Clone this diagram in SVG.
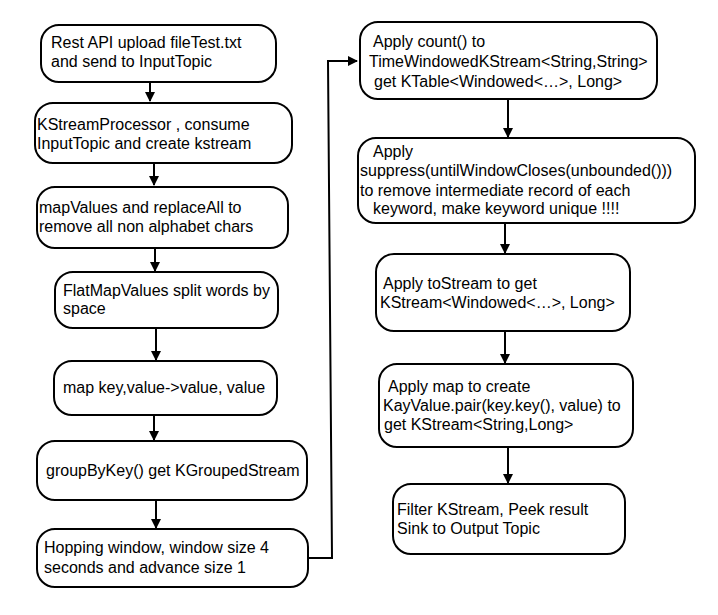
<svg xmlns="http://www.w3.org/2000/svg" width="718" height="615" viewBox="0 0 718 615">
<style>
.box{fill:#fff;stroke:#000;stroke-width:2}
.t{font-family:"Liberation Sans",Arial,sans-serif;font-size:16px;fill:#000}
.c{fill:none;stroke:#000;stroke-width:2}
</style>
<defs>
<marker id="ah" markerWidth="5" markerHeight="5" refX="4.5" refY="2.5" orient="auto" markerUnits="strokeWidth">
<path d="M0,0 L5,2.5 L0,5 Z" fill="#000"/>
</marker>
</defs>
<rect width="718" height="615" fill="#fff"/>
<g id="connectors">
<path class="c" d="M150,82 V101" marker-end="url(#ah)"/>
<path class="c" d="M154,163 V185" marker-end="url(#ah)"/>
<path class="c" d="M155,248 V271" marker-end="url(#ah)"/>
<path class="c" d="M156,328 V360" marker-end="url(#ah)"/>
<path class="c" d="M154,415 V440" marker-end="url(#ah)"/>
<path class="c" d="M156,500 V528" marker-end="url(#ah)"/>
<path class="c" d="M308,558 H332 L328,61 H357" marker-end="url(#ah)"/>
<path class="c" d="M508,99 V137" marker-end="url(#ah)"/>
<path class="c" d="M505,223 V253" marker-end="url(#ah)"/>
<path class="c" d="M505,331 V363" marker-end="url(#ah)"/>
<path class="c" d="M508,447 V483" marker-end="url(#ah)"/>
</g>
<g id="n1"><rect class="box" x="41" y="25" width="235" height="57" rx="18"/>
<text class="t" x="51" y="48">Rest API upload fileTest.txt</text>
<text class="t" x="51" y="67">and send to InputTopic</text></g>
<g id="n2"><rect class="box" x="35" y="103" width="257" height="60" rx="18"/>
<text class="t" x="37" y="130">KStreamProcessor , consume</text>
<text class="t" x="37" y="149">InputTopic and create kstream</text></g>
<g id="n3"><rect class="box" x="37" y="187" width="251" height="61" rx="18"/>
<text class="t" x="39" y="213">mapValues and replaceAll to</text>
<text class="t" x="39" y="232">remove all non alphabet chars</text></g>
<g id="n4"><rect class="box" x="55" y="272" width="223" height="56" rx="18"/>
<text class="t" x="63" y="296">FlatMapValues split words by</text>
<text class="t" x="63" y="314">space</text></g>
<g id="n5"><rect class="box" x="54" y="361" width="223" height="54" rx="18"/>
<text class="t" x="63" y="393">map key,value-&gt;value, value</text></g>
<g id="n6"><rect class="box" x="37" y="441" width="270" height="59" rx="18"/>
<text class="t" x="46" y="476">groupByKey() get KGroupedStream</text></g>
<g id="n7"><rect class="box" x="37" y="529" width="271" height="58" rx="18"/>
<text class="t" x="44" y="553">Hopping window, window size 4</text>
<text class="t" x="44" y="573">seconds and advance size 1</text></g>
<g id="n8"><rect class="box" x="360" y="22" width="297" height="77" rx="18"/>
<text class="t" x="373" y="47">Apply count() to</text>
<text class="t" x="369" y="67">TimeWindowedKStream&lt;String,String&gt;</text>
<text class="t" x="374" y="87">get KTable&lt;Windowed&lt;…&gt;, Long&gt;</text></g>
<g id="n9"><rect class="box" x="358" y="138" width="337" height="85" rx="18"/>
<text class="t" x="373" y="157">Apply</text>
<text class="t" x="360" y="176">suppress(untilWindowCloses(unbounded()))</text>
<text class="t" x="360" y="196">to remove intermediate record of each</text>
<text class="t" x="373" y="214">keyword, make keyword unique !!!!</text></g>
<g id="n10"><rect class="box" x="376" y="254" width="254" height="77" rx="18"/>
<text class="t" x="383" y="289">Apply toStream to get</text>
<text class="t" x="380" y="308">KStream&lt;Windowed&lt;…&gt;, Long&gt;</text></g>
<g id="n11"><rect class="box" x="379" y="364" width="254" height="83" rx="18"/>
<text class="t" x="388" y="392">Apply map to create</text>
<text class="t" x="383" y="411">KayValue.pair(key.key(), value) to</text>
<text class="t" x="384" y="430">get KStream&lt;String,Long&gt;</text></g>
<g id="n12"><rect class="box" x="393" y="484" width="232" height="70" rx="18"/>
<text class="t" x="397" y="515">Filter KStream, Peek result</text>
<text class="t" x="397" y="534">Sink to Output Topic</text></g>
</svg>
